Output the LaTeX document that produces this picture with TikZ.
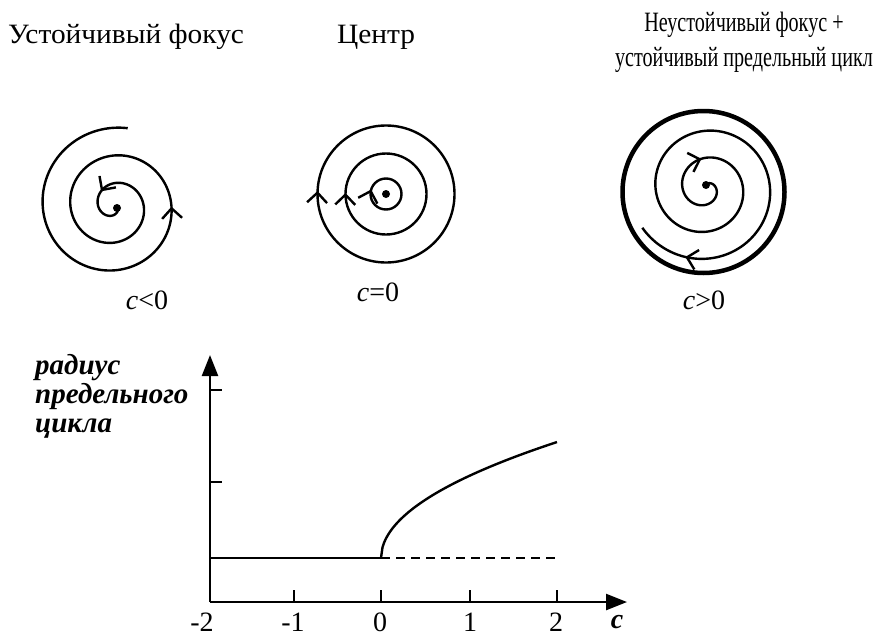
\documentclass[tikz,border=0pt]{standalone}
\usepackage{fontspec}
\setmainfont{Liberation Serif}
\newfontfamily\widefont{Liberation Serif}[FakeStretch=1.05]
\newfontfamily\narrowfont{Liberation Serif}[FakeStretch=0.72]
\usetikzlibrary{arrows.meta, decorations.markings}

\tikzset{barbtip/.tip={Straight Barb[length=10pt, width=20pt]}}

\begin{document}
\begin{tikzpicture}[
    x=1pt, y=1pt,
    font=\fontsize{28}{35}\selectfont,
    orbit/.style={line width=2.4pt, line join=round},
    limitcycle/.style={line width=4.5pt},
    axis/.style={line width=2.4pt, -{Triangle[length=21pt, width=16pt]}},
    tickmark/.style={line width=1.8pt},
    dot/.style={circle, fill, inner sep=0pt, minimum size=8pt},
    title/.style={align=center, inner sep=0pt},
    tickl/.style={inner sep=0pt}
]
\useasboundingbox (0,0) rectangle (875,-637);

% titles
\node[title, anchor=base west, font=\fontsize{28}{35}\selectfont\widefont] (ttlstable) at (8,-43) {Устойчивый фокус};
\node[title, anchor=base, font=\fontsize{28}{35}\selectfont\widefont] (ttlcenter) at (376,-43) {Центр};
\node[title, anchor=base, font=\fontsize{28}{35}\selectfont\narrowfont] (ttlunstable) at (744,-66) {Неустойчивый фокус +\\устойчивый предельный цикл};

% stable focus
\node[dot] (fstable) at (117,-208) {};
\draw[orbit, decoration={markings,
        mark=at position 0.468 with {\arrow{barbtip}},
        mark=at position 0.936 with {\arrow{barbtip}}}, postaction={decorate}]
    plot[domain=80:1060, samples=400]
    ({114+(79-0.077*(\x-80))*cos(\x)}, {-206+(79-0.077*(\x-80))*sin(\x)});
\node (lstable) at (147,-300) {{\itshape c}<0};

% center
\node[dot] (fcenter) at (386,-194) {};
\foreach \r/\p in {15.5/0.453, 40.5/0.496, 68.5/0.493}
    \draw[orbit, decoration={markings,
        mark=at position \p with {\arrowreversed{barbtip}}}, postaction={decorate}]
        (fcenter.center) circle[radius=\r];
\node (lcenter) at (378,-292) {{\itshape c}=0};

% unstable focus + limit cycle
\node[dot] (funstable) at (706,-185) {};
\draw[limitcycle] (703.5,-192) circle[radius=81];
\draw[orbit, decoration={markings,
        mark=at position 0.162 with {\arrow{barbtip}},
        mark=at position 0.92 with {\arrow{barbtip}}}, postaction={decorate}]
    plot[domain=-120:868, samples=400]
    ({706+(10+0.075*\x)*cos(\x)}, {-188-(10+0.075*\x)*sin(\x)});
\node (lunstable) at (704,-300) {{\itshape c}>0};

% bifurcation diagram
\coordinate (O) at (210,-602);
\coordinate (ytop) at (210,-355);
\coordinate (xend) at (627,-602);
\coordinate (zero) at (381,-558);

\draw[axis] (O) -- (ytop);
\draw[axis] (O) -- (xend);
\foreach \y in {390, 482}
    \draw[tickmark] (210,-\y) -- ++(12,0);
\foreach \x in {294, 381, 470, 557}
    \draw[tickmark] (\x,-602) -- ++(0,12);

\node[tickl] (tm2) at (202,-622) {-2};
\node[tickl] (tm1) at (293,-622) {-1};
\node[tickl] (t0) at (380,-622) {0};
\node[tickl] (t1) at (470,-622) {1};
\node[tickl] (t2) at (556,-622) {2};
\node[tickl] (tc) at (617,-622) {\bfseries\itshape c};

\node[anchor=base west, align=left, inner sep=0pt, font=\fontsize{29}{29}\selectfont\bfseries\itshape]
    (ylab) at (35,-432) {радиус\\предельного\\цикла};

\draw[orbit] (210,-558) -- (zero);
\draw[orbit, dash pattern=on 9pt off 6pt] (zero) -- (557,-558);
\draw[orbit] plot[domain=0:176, samples=120] ({381+\x}, {-558+8.74*sqrt(\x)});

\end{tikzpicture}
\end{document}
